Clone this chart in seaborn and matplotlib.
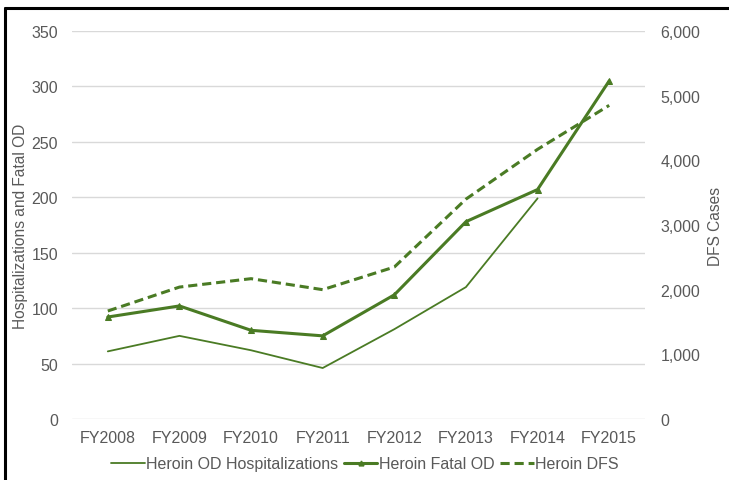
import matplotlib.pyplot as plt
import matplotlib.lines as mlines
import numpy as np
import pandas as pd
import seaborn as sns

# ------------------------------------------------------
# DATA
# ------------------------------------------------------
years = ["FY2008", "FY2009", "FY2010", "FY2011", "FY2012", "FY2013", "FY2014", "FY2015"]
od_hospitalizations = [61, 75, 62, 46, 81, 119, 199, np.nan]
fatal_od = [92, 102, 80, 75, 112, 178, 207, 305]
dfs_cases = [1670, 2040, 2170, 2000, 2350, 3400, 4170, 4850]

GREEN = "#4a7b24"
GRAY = "#595959"

sns.set_style("white")
plt.rcParams["font.family"] = ["Liberation Sans", "DejaVu Sans"]

df = pd.DataFrame({
    "year": years,
    "x": np.arange(len(years)),
    "hosp": od_hospitalizations,
    "fatal": fatal_od,
    "dfs": dfs_cases,
})

fig = plt.figure(figsize=(7.29, 4.81), dpi=100)
ax = fig.add_axes([72 / 729, 1 - 420 / 481, 573 / 729, 388 / 481])
ax2 = ax.twinx()

sns.lineplot(data=df, x="x", y="hosp", ax=ax, color=GREEN, linewidth=1.3)
sns.lineplot(data=df, x="x", y="fatal", ax=ax, color=GREEN, linewidth=2.2,
             marker="^", markersize=4, markeredgecolor=GREEN)
sns.lineplot(data=df, x="x", y="dfs", ax=ax2, color=GREEN, linewidth=2.2,
             linestyle=(0, (3, 1.6)))

ax.set_xlim(-0.5, len(years) - 0.5)
ax.set_ylim(0, 350)
ax.set_yticks(range(0, 351, 50))
ax2.set_ylim(0, 6000)
ax2.set_yticks(range(0, 6001, 1000))
ax2.set_yticklabels([f"{v:,}" for v in range(0, 6001, 1000)])

ax.set_xticks(df["x"])
ax.set_xticklabels(years)
ax.yaxis.grid(True, color="#d9d9d9", linewidth=1)
ax.set_axisbelow(True)

for a in (ax, ax2):
    for s in a.spines.values():
        s.set_visible(False)
    a.tick_params(length=0, labelsize=11.5, colors=GRAY)
ax.tick_params(axis="y", pad=10)
ax2.tick_params(axis="y", pad=11)
ax.tick_params(axis="x", pad=8)

ax.set_xlabel("")
ax.set_ylabel("Hospitalizations and Fatal OD", fontsize=11.2, color=GRAY, va="center")
ax2.set_ylabel("DFS Cases", fontsize=11.2, color=GRAY, va="center")
ax.yaxis.set_label_coords((21 - 72) / 573, 0.5)
ax2.yaxis.set_label_coords((716 - 72) / 573, 0.5)

handles = [
    mlines.Line2D([], [], color=GREEN, linewidth=1.3),
    mlines.Line2D([], [], color=GREEN, linewidth=2.2, marker="^", markersize=3.5),
    mlines.Line2D([], [], color=GREEN, linewidth=2.2, linestyle=(0, (3, 1.6))),
]
labels = ["Heroin OD Hospitalizations", "Heroin Fatal OD", "Heroin DFS"]
fig.legend(handles, labels, loc="center", bbox_to_anchor=(365 / 729, 1 - 465 / 481),
           ncol=3, frameon=False, fontsize=11.5, handlelength=2.1, handletextpad=0.1,
           columnspacing=0.35, labelcolor=GRAY)

# partial outer border (top and left edges, as in the cropped screenshot)
fig.add_artist(mlines.Line2D([5 / 729, 1], [1 - 9 / 481, 1 - 9 / 481],
                             transform=fig.transFigure, color="black", linewidth=2.2))
fig.add_artist(mlines.Line2D([5 / 729, 5 / 729], [0, 1 - 9 / 481],
                             transform=fig.transFigure, color="black", linewidth=2.2))

fig.savefig("out.png", dpi=100)
